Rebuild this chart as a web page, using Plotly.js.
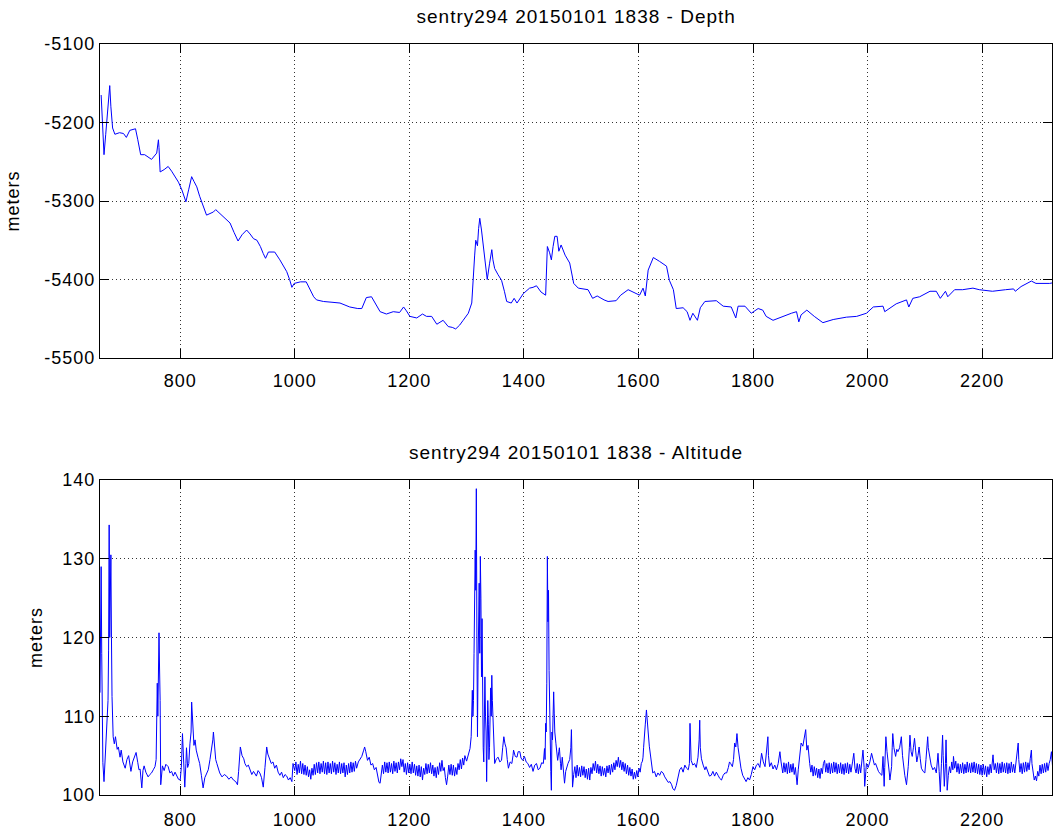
<!DOCTYPE html>
<html>
<head>
<meta charset="utf-8">
<script src="https://cdn.plot.ly/plotly-3.0.1.min.js"></script>
<style>
  html, body { margin: 0; padding: 0; background: #fff; }
  #chart { width: 1054px; height: 834px; }
  #chart text { letter-spacing: 1px; }
</style>
</head>
<body>
<div id="chart"></div>
<script>
// ---- Chart text ----
const depthTitle = "sentry294 20150101 1838 - Depth";
const altitudeTitle = "sentry294 20150101 1838 - Altitude";
const yUnit = "meters";

// ---- Axis ticks ----
const xTicks = [800, 1000, 1200, 1400, 1600, 1800, 2000, 2200];
const depthTicks = [-5500, -5400, -5300, -5200, -5100];
const altitudeTicks = [100, 110, 120, 130, 140];
const xRange = [660, 2322];
const depthRange = [-5500, -5100];
const altitudeRange = [100, 140];

// ---- Depth series: [time, depth m] ----
const depthSamples = [
  [662,-5165],[664,-5200],[667,-5241],[670,-5215],[673,-5190],[677,-5153],[679,-5180],[682,-5207],[686,-5215],[694,-5213],
  [701,-5214],[706,-5219],[712,-5210],[722,-5208],[726,-5222],[731,-5241],[738,-5241],[750,-5247],[759,-5239],[762,-5222],
  [763,-5232],[765,-5263],[772,-5260],[779,-5256],[785,-5262],[791,-5269],[797,-5276],[803,-5286],[810,-5301],[815,-5285],
  [820,-5269],[824,-5275],[829,-5282],[834,-5294],[840,-5307],[846,-5318],[852,-5316],[858,-5314],[862,-5311],[869,-5316],
  [878,-5322],[887,-5328],[894,-5340],[901,-5351],[908,-5343],[916,-5337],[922,-5342],[928,-5348],[934,-5350],[940,-5358],
  [945,-5367],[949,-5373],[954,-5365],[965,-5365],[974,-5375],[980,-5382],[986,-5390],[991,-5400],[995,-5410],[999,-5405],
  [1010,-5403],[1020,-5403],[1027,-5413],[1033,-5422],[1038,-5426],[1050,-5428],[1065,-5429],[1079,-5430],[1096,-5435],[1110,-5437],
  [1117,-5437],[1121,-5430],[1125,-5423],[1134,-5422],[1140,-5430],[1149,-5441],[1160,-5444],[1172,-5441],[1183,-5442],[1190,-5435],
  [1195,-5440],[1201,-5447],[1213,-5449],[1223,-5444],[1230,-5447],[1239,-5447],[1248,-5457],[1259,-5452],[1268,-5460],[1275,-5461],
  [1281,-5463],[1288,-5458],[1294,-5452],[1303,-5443],[1309,-5430],[1311,-5401],[1314,-5370],[1316,-5350],[1319,-5357],[1321,-5335],
  [1323,-5322],[1326,-5337],[1330,-5362],[1333,-5385],[1336,-5400],[1340,-5380],[1344,-5362],[1346,-5375],[1349,-5386],[1355,-5394],
  [1361,-5401],[1366,-5415],[1370,-5428],[1378,-5430],[1383,-5424],[1388,-5430],[1393,-5424],[1399,-5418],[1410,-5411],[1416,-5410],
  [1422,-5408],[1430,-5416],[1438,-5420],[1441,-5358],[1445,-5366],[1448,-5375],[1451,-5358],[1454,-5345],[1458,-5345],[1461,-5364],
  [1465,-5356],[1472,-5369],[1480,-5379],[1484,-5395],[1487,-5405],[1495,-5411],[1512,-5413],[1520,-5424],[1528,-5421],[1540,-5426],
  [1547,-5428],[1561,-5427],[1569,-5420],[1582,-5413],[1590,-5416],[1602,-5420],[1608,-5411],[1612,-5421],[1617,-5388],[1622,-5378],
  [1626,-5372],[1637,-5377],[1649,-5383],[1654,-5401],[1661,-5413],[1666,-5437],[1678,-5436],[1685,-5441],[1690,-5452],[1695,-5443],
  [1703,-5452],[1708,-5436],[1716,-5428],[1736,-5427],[1748,-5434],[1762,-5435],[1770,-5449],[1774,-5434],[1786,-5434],[1797,-5443],
  [1809,-5437],[1817,-5439],[1823,-5447],[1835,-5452],[1852,-5447],[1867,-5443],[1876,-5441],[1880,-5454],[1884,-5445],[1894,-5439],
  [1907,-5447],[1922,-5455],[1940,-5451],[1963,-5448],[1981,-5447],[1998,-5443],[2010,-5435],[2027,-5434],[2030,-5441],[2041,-5435],
  [2050,-5431],[2068,-5426],[2072,-5435],[2079,-5424],[2091,-5422],[2109,-5415],[2120,-5415],[2127,-5424],[2136,-5415],[2140,-5422],
  [2152,-5413],[2166,-5413],[2184,-5411],[2195,-5413],[2218,-5415],[2241,-5413],[2255,-5412],[2258,-5415],[2268,-5409],[2286,-5402],
  [2294,-5405],[2318,-5405],[2325,-5404]
];

// ---- Altitude series: [time, altitude m] ----
const altitudeSamples = [
  [660,113],[662,129],[663,118],[664,112.9],[665,104.1],[667,101.7],[669,105],[672,109.1],[674,112],[675,118.4],
  [676,134.3],[677,120],[678,125],[679,130.5],[680,120],[681,112.5],[683,107.4],[685,106.5],[687,107.4],[690,105.8],
  [692,106.1],[695,104.8],[697,105.7],[700,104.2],[704,103.4],[707,104.5],[710,105],[712,103.6],[714,103],[717,104.2],
  [720,104.8],[723,105.4],[726,104.1],[728,103.2],[730,103.3],[733,100.9],[735,103.1],[737,103.7],[740,102.9],[744,102.3],
  [747,102.6],[750,102.8],[753,103.2],[756,103.6],[758,104.5],[760,114.2],[761,110],[763,120.6],[764,116],[765,112],
  [766,101.3],[768,103.2],[769,103.7],[772,103.1],[775,103.9],[779,103.6],[782,102.8],[785,103.0],[788,102.4],[791,102.9],
  [794,102.4],[797,102.0],[800,101.9],[802,103.5],[804,107.8],[806,103],[808,101.0],[810,104],[811,106],[813,103.5],
  [815,104],[817,106.5],[819,108],[820,111.8],[822,108.5],[824,106.3],[826,107],[828,105.7],[831,104.8],[834,104],
  [837,102.5],[840,100.9],[843,102.2],[846,102.7],[849,103.2],[852,104.5],[855,105.7],[857,107],[858,108],[860,106],
  [862,104.5],[864,104],[867,103.2],[869,102.8],[873,102.3],[877,102.6],[881,102.4],[885,102.0],[889,102.3],[893,101.9],
  [897,101.7],[900,101.3],[902,103],[905,106.1],[908,105],[911,104.6],[913,104],[916,103.6],[919,103.8],[922,103.2],
  [925,102.6],[928,103.0],[930,102.8],[933,102.4],[936,103.1],[939,102.8],[942,102.2],[945,101.0],[948,103.5],[951,106.1],
  [953,105.2],[956,104.5],[959,104],[962,104.2],[965,103.4],[968,103.8],[971,102.9],[974,102.5],[977,102.9],[980,102.2],
  [983,102.6],[986,102.4],[989,101.9],[992,102.2],[995,101.7],[997,104],
  [1000,103.1],[1002,104.2],[1004,102.6],[1006,103.9],[1008,102.8],[1010,104.3],[1012,102.7],[1014,104.0],[1016,102.6],[1018,103.8],
  [1020,102.5],[1022,103.6],[1024,102.3],[1026,103.2],[1028,102.0],[1030,103.4],[1032,102.5],[1034,103.9],[1036,102.6],[1038,104.1],
  [1040,102.8],[1042,104.2],[1044,102.7],[1046,104.0],[1048,102.9],[1050,104.3],[1052,102.7],[1054,104.1],[1056,102.6],[1058,104.2],
  [1060,102.8],[1062,104.0],[1064,102.7],[1066,104.3],[1068,102.9],[1070,104.1],[1072,102.6],[1074,103.9],[1076,102.8],[1078,104.2],
  [1080,102.7],[1082,104.0],[1084,102.8],[1086,104.1],[1088,102.3],[1090,103.8],[1092,102.6],[1094,104.0],[1096,102.8],[1098,104.2],
  [1100,102.9],[1102,104.1],[1104,103.0],[1106,104.3],[1108,103.4],
  [1111,104.2],[1114,104.6],[1117,104.9],[1120,105.6],[1122,106.1],[1124,105.5],[1127,104.4],
  [1130,104.8],[1133,103.8],[1136,104.0],[1139,103.2],[1142,103.5],[1145,102.4],[1147,101.6],[1149,101.5],
  [1151,102.6],[1153,103.8],[1155,102.7],[1157,104.2],[1159,102.9],[1161,104.1],[1163,102.8],[1165,104.2],[1167,102.9],[1169,104.0],
  [1171,102.7],[1173,104.3],[1175,103.0],[1177,104.1],[1179,102.8],[1181,104.2],[1183,103.2],[1185,104.6],[1187,103.6],[1189,104.5],
  [1191,102.9],[1193,104.0],[1195,102.6],[1197,104.1],[1199,102.8],[1201,103.9],[1203,102.7],[1205,104.2],[1207,102.8],[1209,103.9],
  [1211,102.5],[1213,103.7],[1215,102.4],[1217,103.8],[1219,102.3],[1221,103.6],[1223,101.9],[1225,103.4],[1227,102.6],[1229,104.0],
  [1231,102.7],[1233,103.9],[1235,102.8],[1237,104.1],[1239,102.7],[1241,103.8],[1243,102.4],[1245,103.5],[1247,102.2],[1249,103.6],
  [1251,102.6],[1253,104.1],[1255,103.0],[1257,104.4],[1259,103.1],[1261,103.5],[1263,102.2],[1265,101.3],[1267,102.4],[1269,103.8],
  [1271,102.6],[1273,103.9],[1275,102.5],[1277,103.8],[1279,102.4],[1281,103.5],[1283,102.6],[1285,104.0],[1287,103.2],[1289,104.5],
  [1291,103.3],[1293,104.7],[1295,103.8],[1297,105.0],[1300,104.3],[1303,105.2],[1306,105.9],[1308,107.4],
  [1310,113.3],[1311,110],[1312,112],[1313,118],[1314,124],[1315,131.1],
  [1316,126],[1317,138.9],[1318,120],[1319,107.4],[1320,116.5],[1321,121],[1322,126.9],[1323,118],[1324,130.3],[1325,125],
  [1326,115],[1327,122.4],[1328,110],[1329,106],[1330,104.2],[1331,109],[1332,115],[1333,110],[1334,108],[1335,101.7],
  [1336,106],[1337,112],[1338,109],[1339,104.5],[1340,106],[1341,110],[1342,113.6],[1343,110],[1344,115.2],[1345,112],
  [1346,109.8],[1347,107],[1349,104],[1352,104.6],[1355,104.8],[1358,104.2],[1361,104.4],[1363,106],[1365,107.4],[1367,106.5],
  [1369,106],[1371,104.5],[1373,103.4],[1376,104.2],[1379,104],[1381,105],[1382,105.7],[1385,104.9],[1388,104.8],[1390,105.5],
  [1393,105.5],[1395,104.7],[1398,104.4],[1401,104.9],[1404,104.2],[1407,104],[1410,103.5],[1413,103.9],[1416,103],[1419,103.8],
  [1422,104],[1425,103.2],[1428,103.4],[1431,104.1],[1434,104],[1436,105.9],[1437,104.5],[1438,109.1],[1439,108],[1440,114.2],
  [1441,130.3],[1442,122],[1443,126],[1444,115.8],[1445,110],[1446,105.9],[1447,103],[1448,100.6],[1449,108],[1450,107],
  [1451,110],[1452,113.1],[1453,110.4],[1454,108],[1456,106.5],[1458,105],[1459,104.4],[1461,105.5],[1462,106],[1464,104],
  [1465,103.2],[1467,104.8],[1469,103],[1471,101.5],[1473,103],[1475,103.6],[1477,104],[1480,104.5],[1482,106],[1483,108.3],
  [1484,104],[1485,101],
  [1487,102.6],[1489,103.6],[1491,102.2],[1493,103.8],[1495,102.4],[1497,103.5],[1499,102.3],[1501,103.7],[1503,102.5],[1505,103.6],
  [1507,102.2],[1509,103.3],[1511,102.0],[1513,103.4],[1515,101.9],[1517,103.5],[1519,102.7],[1521,104.0],[1523,103.1],[1525,104.3],
  [1527,102.8],[1529,103.9],[1531,102.7],[1533,103.7],[1535,102.4],[1537,103.6],[1539,102.5],[1541,103.4],[1543,102.3],[1545,103.7],
  [1547,102.8],[1549,103.8],[1551,102.6],[1553,103.9],[1555,102.9],[1557,104.1],[1559,103.2],[1561,104.4],[1563,103.6],[1565,104.8],
  [1567,103.5],[1569,104.4],[1571,103.2],[1573,104.2],[1575,103.0],[1577,104.0],[1579,102.7],[1581,103.8],[1583,102.5],[1585,103.5],
  [1587,102.4],[1589,103.3],[1591,102.0],[1593,102.9],[1595,102.1],[1597,103.1],[1599,102.3],[1601,103.4],[1603,102.9],[1605,104.0],
  [1607,104.3],[1608,104.8],[1609,106],[1611,107.4],[1612,109],[1614,110.8],
  [1615,109.2],[1617,108],[1619,106.2],[1621,104.8],[1623,103.9],[1625,102.8],[1628,103.0],[1631,102.3],[1634,102.8],[1637,102.5],
  [1640,103.0],[1643,102.8],[1646,102.3],[1649,101.9],[1652,101.6],[1655,101.7],[1658,101.3],[1660,100.8],[1663,100.6],[1666,101.2],
  [1669,102.3],[1672,103.2],[1675,103.5],[1678,102.9],[1681,103.8],[1684,103.4],[1687,103.2],[1689,104],[1690,109.1],[1691,106],
  [1692,104.4],[1695,103.8],[1698,104],[1701,103.5],[1704,104.8],[1706,107],[1707,109.5],[1708,106],[1710,104.6],[1713,103.8],
  [1716,103.2],[1718,103.6],[1721,103.0],[1724,102.4],[1727,102.5],[1730,103.0],[1733,102.4],[1736,102.9],[1739,102.5],[1742,102.1],
  [1745,101.9],[1748,102.5],[1751,102.8],[1754,102.8],[1757,103.5],[1759,104.2],[1761,104],[1764,103.6],[1766,104.5],[1768,106.6],
  [1770,106.1],[1772,107.8],[1774,106],[1776,104.9],[1779,103.4],[1782,102.5],[1785,102],[1788,101.7],[1791,102.2],[1794,101.9],
  [1797,102.6],[1800,103.6],[1803,103.2],[1806,103.8],[1809,104],[1812,103.5],[1815,105.3],[1818,104.2],[1821,103.6],[1823,104.8],
  [1826,107.4],[1827,105],[1829,103.6],[1832,104.1],[1835,103.3],[1838,103.8],[1841,103.2],[1844,104.0],[1847,105.5],[1849,104.2],
  [1850,103.6],[1852,102.8],[1854,104.1],[1856,102.9],[1858,104.0],[1860,102.7],[1862,104.2],[1864,102.8],[1866,103.9],[1868,102.9],
  [1870,104.0],[1872,102.6],[1874,103.5],[1875,102.8],
  [1877,101.3],[1879,103.2],[1880,104],[1882,105.3],[1884,106.6],[1887,106.2],[1889,107.2],[1892,108.3],[1894,105.7],[1896,106.3],
  [1899,104],[1901,102.9],[1903,103.8],[1905,102.4],[1907,103.6],[1909,102.5],[1911,103.4],[1913,102.2],[1915,103.3],[1917,102.1],
  [1919,103.4],[1921,102.7],[1923,104.0],[1925,104.4],[1927,102.9],[1929,104.0],[1931,102.8],[1933,104.1],[1935,102.7],[1937,104.0],
  [1939,102.8],[1941,104.2],[1943,102.9],[1945,104.1],[1947,102.7],[1949,103.9],[1951,102.8],[1953,104.1],[1955,102.7],[1957,103.9],
  [1959,102.6],[1961,104.0],[1963,102.8],[1965,104.1],[1967,102.7],[1969,103.9],[1971,102.9],[1973,104.3],[1974,104.3],[1976,105.3],
  [1978,103.4],[1980,102.8],[1982,104.0],[1984,102.7],[1986,103.9],[1988,102.8],[1990,104.1],[1991,104.5],[1992,105.7],[1994,103.5],
  [1995,101.1],[1997,103.0],[1998,104],[2001,103.5],
  [2004,104.2],[2007,105.3],[2009,104.6],[2012,103.8],[2014,104.0],[2016,103.6],[2019,103.0],[2022,102.7],[2025,102.5],[2027,104.9],
  [2029,101.1],[2030,103.5],[2032,107.4],[2034,105.5],[2036,104.4],[2038,102.8],[2039,101.9],[2041,103],[2042,103.6],[2043,106],
  [2044,107.8],[2046,106],[2049,104.9],[2051,105.8],[2053,105.5],[2056,106],[2059,107.4],[2061,105],[2063,103.6],[2065,102.5],
  [2068,101.3],[2070,102.5],[2071,103.6],[2073,106],[2074,107.6],[2076,105.5],[2078,104.9],[2080,106],[2082,107.2],[2084,105.6],
  [2086,104.2],[2088,105],[2090,106.1],[2092,104.6],[2094,103.4],[2097,103.0],[2100,102.8],[2102,104.5],[2105,107.4],[2106,106],
  [2108,104.9],[2111,103.8],[2114,103.2],[2117,103.5],[2120,102.8],[2122,104],[2123,105.3],[2125,103],[2127,100.4],[2129,104],
  [2131,107.6],[2132,105],[2134,101.1],[2136,104],[2137,107],[2138,104],[2139,100.6],[2141,102.5],
  [2143,103.6],[2145,102.8],[2147,104.2],[2149,103.2],[2150,104.9],[2152,103.4],[2154,104.3],[2156,102.9],[2158,104.0],[2160,102.7],
  [2162,103.9],[2164,102.8],[2166,104.1],[2168,102.7],[2170,103.9],[2172,102.8],[2174,104.2],[2176,102.9],[2178,104.0],[2180,102.8],
  [2182,104.1],[2184,102.9],[2186,104.2],[2188,102.8],[2190,104.0],[2192,102.7],[2194,103.9],[2196,102.6],[2198,103.8],[2200,102.5],
  [2202,103.9],[2204,102.6],[2206,103.7],[2208,102.3],[2210,103.6],[2212,102.6],[2214,103.9],[2216,102.8],[2218,104.2],[2219,105.1],
  [2221,103.2],[2223,104.0],[2225,102.8],[2227,104.1],[2229,102.7],[2231,104.0],[2233,102.8],[2235,104.2],[2237,102.9],[2239,104.0],
  [2241,102.8],[2243,104.1],[2245,102.7],[2247,104.0],[2249,102.8],[2251,104.2],[2253,102.9],[2255,103.9],[2257,102.8],[2259,104.1],
  [2261,104.6],[2262,105.5],[2263,106.6],[2264,104.5],[2266,102.9],[2268,104.0],[2270,102.7],[2272,104.1],[2274,102.9],[2276,104.2],
  [2278,103.0],[2280,104.1],[2282,103.2],[2284,104.6],[2285,105],[2286,105.7],[2287,104],[2289,102.8],[2291,101.9],[2293,102.4],
  [2295,101.8],[2297,103.0],[2299,102.4],[2301,103.8],[2303,102.7],[2305,103.9],[2307,102.8],[2309,104.0],[2311,102.9],[2313,104.1],
  [2315,103.1],[2317,104.0],[2319,104.5],[2321,105.5],[2323,103.6],[2325,104.2]
];

const FONT = "Liberation Sans, Arial, Helvetica, sans-serif";
const TICKFONT = {family: FONT, size: 18, color: "#000"};

function axisBase() {
  return {
    showline: true, linecolor: "#000", linewidth: 1, mirror: "ticks",
    ticks: "inside", ticklen: 9, tickcolor: "#000", tickwidth: 1,
    showgrid: true, gridcolor: "#333", gridwidth: 1, griddash: "1px,3px",
    zeroline: false, tickfont: TICKFONT, automargin: false
  };
}

const traces = [
  {
    x: depthSamples.map(p => p[0]), y: depthSamples.map(p => p[1]),
    type: "scatter", mode: "lines", xaxis: "x", yaxis: "y",
    line: {color: "#0000ff", width: 1}, hoverinfo: "skip"
  },
  {
    x: altitudeSamples.map(p => p[0]), y: altitudeSamples.map(p => p[1]),
    type: "scatter", mode: "lines", xaxis: "x2", yaxis: "y2",
    line: {color: "#0000ff", width: 1}, hoverinfo: "skip"
  }
];

const topDomain = [0.5819, 1];
const botDomain = [0, 0.4194];

const layout = {
  width: 1054, height: 834,
  margin: {l: 100, r: 2, t: 44, b: 39},
  paper_bgcolor: "#fff", plot_bgcolor: "#fff",
  showlegend: false,
  font: {family: FONT, size: 18, color: "#000"},
  xaxis: Object.assign(axisBase(), {
    domain: [0, 1], anchor: "y", range: xRange, ticklabelstandoff: 6,
    tickmode: "array", tickvals: xTicks, ticktext: xTicks.map(String)
  }),
  yaxis: Object.assign(axisBase(), {
    domain: topDomain, anchor: "x", range: depthRange,
    tickmode: "array", tickvals: depthTicks, ticktext: depthTicks.map(String),
    title: {text: yUnit, font: {family: FONT, size: 18, color: "#000"}, standoff: 25}
  }),
  xaxis2: Object.assign(axisBase(), {
    domain: [0, 1], anchor: "y2", range: xRange, ticklabelstandoff: 8,
    tickmode: "array", tickvals: xTicks, ticktext: xTicks.map(String)
  }),
  yaxis2: Object.assign(axisBase(), {
    domain: botDomain, anchor: "x2", range: altitudeRange,
    tickmode: "array", tickvals: altitudeTicks, ticktext: altitudeTicks.map(String),
    title: {text: yUnit, font: {family: FONT, size: 18, color: "#000"}, standoff: 18}
  }),
  annotations: [
    {text: depthTitle, xref: "paper", yref: "paper", x: 0.5, y: topDomain[1],
     xanchor: "center", yanchor: "bottom", yshift: 15, showarrow: false,
     font: {family: FONT, size: 19, color: "#000"}},
    {text: altitudeTitle, xref: "paper", yref: "paper", x: 0.5, y: botDomain[1],
     xanchor: "center", yanchor: "bottom", yshift: 15, showarrow: false,
     font: {family: FONT, size: 19, color: "#000"}}
  ]
};

Plotly.newPlot("chart", traces, layout, {staticPlot: true, displayModeBar: false});
</script>
</body>
</html>
